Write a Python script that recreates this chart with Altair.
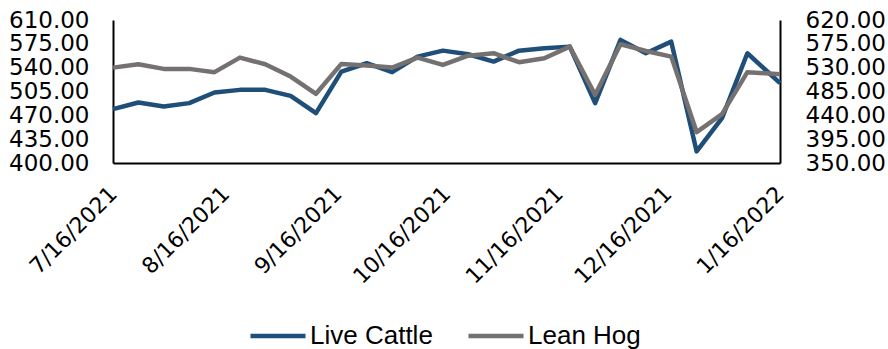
import altair as alt
import pandas as pd

# Weekly observations
dates = [
    "2021-07-16", "2021-07-23", "2021-07-30", "2021-08-06", "2021-08-13",
    "2021-08-20", "2021-08-27", "2021-09-03", "2021-09-10", "2021-09-17",
    "2021-09-24", "2021-10-01", "2021-10-08", "2021-10-15", "2021-10-22",
    "2021-10-29", "2021-11-05", "2021-11-12", "2021-11-19", "2021-11-26",
    "2021-12-03", "2021-12-10", "2021-12-17", "2021-12-24", "2021-12-31",
    "2022-01-07", "2022-01-16",
]

live_cattle = [
    479.1, 488.8, 482.9, 487.9, 503.5, 507.4, 507.4, 498.6, 473.3, 534.2,
    546.5, 533.4, 556.2, 565.0, 559.7, 548.9, 565.0, 568.5, 570.9, 487.9,
    580.7, 561.2, 578.2, 417.0, 465.9, 561.2, 517.2,
]

lean_hog = [
    530.1, 536.5, 527.7, 527.7, 521.5, 549.0, 536.5, 513.2, 480.6, 537.1,
    533.9, 530.1, 549.0, 535.2, 552.7, 557.3, 540.3, 547.8, 569.7, 478.7,
    574.2, 561.6, 550.9, 408.4, 442.3, 521.5, 517.7,
]

series_names = ["Live Cattle", "Lean Hog"]
series_colors = ["#1F4E79", "#767171"]

left_ticks = [400, 435, 470, 505, 540, 575, 610]
right_ticks = [350, 395, 440, 485, 530, 575, 620]
month_ticks = [(2021, 7), (2021, 8), (2021, 9), (2021, 10), (2021, 11), (2021, 12), (2022, 1)]

rows = []
for d, c, h in zip(dates, live_cattle, lean_hog):
    rows.append({"date": d + "T00:00:00", "series": "Live Cattle", "value": c})
    rows.append({"date": d + "T00:00:00", "series": "Lean Hog", "value": h})
df = pd.DataFrame(rows)

axis_font = "DejaVu Sans"

x_enc = alt.X(
    "date:T",
    title=None,
    scale=alt.Scale(domain=[alt.DateTime(year=2021, month=7, date=16),
                            alt.DateTime(year=2022, month=1, date=16)]),
    axis=alt.Axis(
        values=[alt.DateTime(year=y, month=m, date=16) for y, m in month_ticks],
        format="%-m/%-d/%Y",
        labelAngle=-45,
        labelAlign="right",
        labelBaseline="middle",
        labelPadding=27,
        labelOffset=0,
        labelFontSize=22,
        labelFlush=False,
        labelOverlap=False,
    ),
)

color_enc = alt.Color(
    "series:N",
    scale=alt.Scale(domain=series_names, range=series_colors),
    legend=alt.Legend(
        title=None,
        orient="none",
        legendX=135,
        legendY=286,
        direction="horizontal",
        symbolType="stroke",
        symbolSize=3025,
        symbolStrokeWidth=4.5,
        labelFont="Liberation Sans",
        labelFontSize=26,
        labelColor="black",
        labelOffset=2,
        labelLimit=0,
        columnPadding=26,
        padding=0,
    ),
)

base = alt.Chart(df).encode(x=x_enc, color=color_enc)

cattle = base.transform_filter(alt.datum.series == "Live Cattle").mark_line(
    strokeWidth=4.5, strokeJoin="round"
).encode(
    y=alt.Y(
        "value:Q",
        title=None,
        scale=alt.Scale(domain=[400, 610], nice=False, zero=False),
        axis=alt.Axis(orient="left", values=left_ticks, format=".2f",
                      labelPadding=24, labelOverlap=False, labelFlush=False),
    )
)

hog = base.transform_filter(alt.datum.series == "Lean Hog").mark_line(
    strokeWidth=4.5, strokeJoin="round"
).encode(
    y=alt.Y(
        "value:Q",
        title=None,
        scale=alt.Scale(domain=[350, 620], nice=False, zero=False),
        axis=alt.Axis(orient="right", values=right_ticks, format=".2f",
                      labelPadding=25, labelOverlap=False, labelFlush=False),
    )
)

chart = (
    alt.layer(cattle, hog)
    .resolve_scale(y="independent")
    .properties(
        width=667,
        height=143,
        autosize=alt.AutoSizeParams(type="none"),
        padding={"left": 113, "top": 20, "right": 108, "bottom": 186},
        background="white",
    )
    .configure_view(stroke=None)
    .configure_axis(
        grid=False,
        ticks=False,
        tickSize=0,
        domainColor="black",
        domainWidth=2,
        labelFont=axis_font,
        labelFontSize=23,
        labelColor="black",
        labelBaseline="middle",
    )
)

chart.save("out.html", embed_options={"renderer": "svg", "actions": False})
